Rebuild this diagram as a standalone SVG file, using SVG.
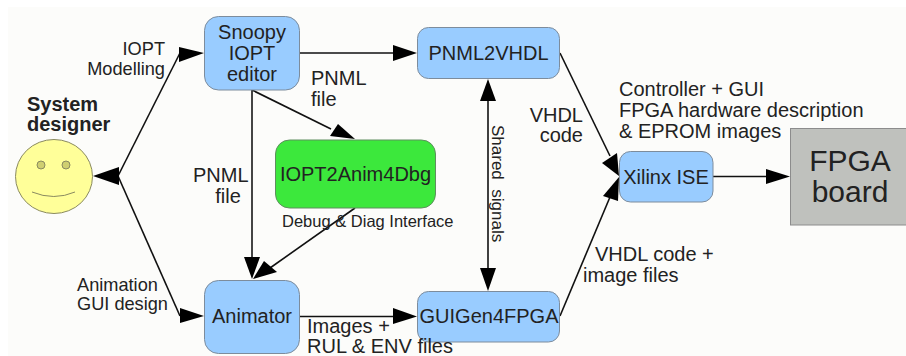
<svg xmlns="http://www.w3.org/2000/svg" width="906" height="356" viewBox="0 0 906 356">
<style>
text{font-family:"Liberation Sans",Arial,sans-serif;fill:#222;font-size:20px}
.s{font-size:18.200px}
.m{text-anchor:middle}.e{text-anchor:end}
.blue{fill:#99ccff;stroke:#7d8c9c;stroke-width:1}
.l{fill:none;stroke:#111;stroke-width:1.6}
.g{stroke:#444;stroke-width:2}
.h{fill:#000}
</style>
<rect width="906" height="356" fill="#fff"/>
<rect x="8" y="7" width="898" height="349" fill="#fcfcfa"/>
<g id="connectors">
<path class="l" d="M118 176L180 53"/><path class="h" d="M204 53L179 47V62Z"/>
<path class="l" d="M118 176L180 316"/><path class="h" d="M204 316L180 308V323Z"/>
<path class="h" d="M93 176L119 167V185Z"/>
<path class="l g" d="M252 90V258"/><path class="h" d="M252 279L244 257H260Z"/>
<path class="l" d="M252 90L331 129"/><path class="h" d="M355 139L330 136L338 124Z"/>
<path class="l" d="M355 208L270 268"/><path class="h" d="M253 279L264 261L277 272Z"/>
<path class="l" d="M299 53H394"/><path class="h" d="M417 53L393 45V61Z"/>
<path class="l" d="M299 316.500H394"/><path class="h" d="M417 316.500L393 308V324Z"/>
<path class="l" d="M488 100V269"/><path class="h" d="M488 79L480 101H496Z"/><path class="h" d="M488 291L480 268H496Z"/>
<path class="l" d="M560 53L610 156"/><path class="h" d="M619 176L602 163L617 153Z"/>
<path class="l" d="M560 316L610 197"/><path class="h" d="M619 177L603 196L618 201Z"/>
<path class="l" d="M713 176.500H767"/><path class="h" d="M790 176.500L766 169V184Z"/>
</g>
<g id="designer">
<ellipse cx="54" cy="176.500" rx="38.500" ry="37" fill="#ffff99" stroke="#8a8a60"/>
<circle cx="41" cy="165" r="4" fill="#cfcf70" stroke="#8a8a60"/>
<circle cx="66" cy="165" r="4" fill="#cfcf70" stroke="#8a8a60"/>
<path d="M32 192Q54 201 75 192" fill="none" stroke="#8a8a60"/>
<text x="27" y="111" font-weight="bold">System</text>
<text x="27" y="131" font-weight="bold">designer</text>
</g>
<g id="snoopy">
<rect class="blue" x="204.500" y="16.500" width="95" height="73.500" rx="14"/>
<text class="m" x="252" y="39">Snoopy</text><text class="m" x="252" y="60">IOPT</text><text class="m" x="252" y="81">editor</text>
</g>
<g id="animator">
<rect class="blue" x="204.500" y="280.500" width="95" height="73" rx="14"/>
<text class="m" x="252" y="323">Animator</text>
</g>
<g id="pnml2vhdl">
<rect class="blue" x="417.500" y="27.500" width="142" height="51" rx="11"/>
<text class="m" x="488.500" y="60">PNML2VHDL</text>
</g>
<g id="guigen">
<rect class="blue" x="417.500" y="291.500" width="142" height="50.500" rx="11"/>
<text class="m" x="489" y="323">GUIGen4FPGA</text>
</g>
<g id="xilinx">
<rect class="blue" x="619.500" y="151.500" width="93.500" height="50.500" rx="11"/>
<text class="m" x="666" y="184">Xilinx ISE</text>
</g>
<g id="iopt2anim">
<rect x="275.500" y="140" width="160" height="68" rx="14" fill="#3ce83c" stroke="#5f8f5f"/>
<text class="m" x="355.500" y="181">IOPT2Anim4Dbg</text>
</g>
<g id="fpga">
<rect x="790.500" y="128.500" width="116" height="96.500" fill="#bfc1bd" stroke="#8c8c8c"/>
<text class="m" x="850" y="171" style="font-size:30px">FPGA</text>
<text class="m" x="850" y="202" style="font-size:30px">board</text>
</g>
<g id="labels">
<text class="e s" x="165" y="55">IOPT</text>
<text class="e s" x="165" y="75">Modelling</text>
<text class="s" x="77" y="291">Animation</text>
<text class="s" x="77" y="310">GUI design</text>
<text x="193" y="182">PNML</text>
<text class="m" x="228" y="203">file</text>
<text x="311" y="85">PNML</text>
<text x="311" y="106">file</text>
<text x="282" y="227" style="font-size:16.500px">Debug &amp; Diag Interface</text>
<text x="307" y="333">Images +</text>
<text x="307" y="353">RUL &amp; ENV files</text>
<text transform="translate(491.500,125) rotate(90)" style="font-size:17px" xml:space="preserve">Shared  signals</text>
<text class="e" x="583" y="122">VHDL</text>
<text class="e" x="583" y="142">code</text>
<text x="619" y="96">Controller + GUI</text>
<text x="619" y="117">FPGA hardware description</text>
<text x="619" y="138">&amp; EPROM images</text>
<text x="595" y="261">VHDL code +</text>
<text x="583" y="282">image files</text>
</g>
</svg>
